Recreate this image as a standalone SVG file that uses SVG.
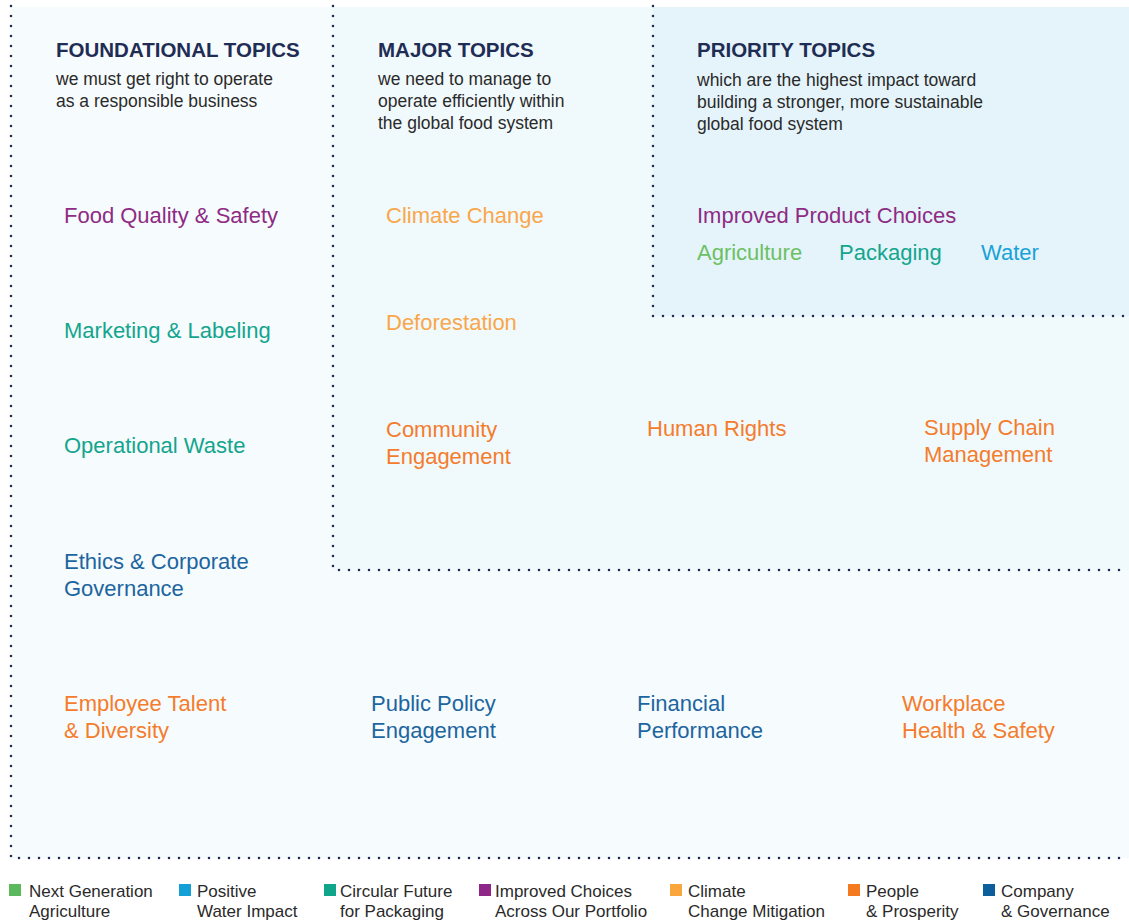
<svg xmlns="http://www.w3.org/2000/svg" width="1129" height="924" viewBox="0 0 1129 924">
<style>
.hd{font-family:"Liberation Sans",Arial,sans-serif;font-weight:bold;font-size:20.5px;fill:#1f2d55}
.sub{font-family:"Liberation Sans",Arial,sans-serif;font-size:17.5px;fill:#2a2a2a}
.t{font-family:"Liberation Sans",Arial,sans-serif;font-size:22px}
.lg{font-family:"Liberation Sans",Arial,sans-serif;font-size:17px;fill:#2a2a2a}
.dot{fill:none;stroke:#1f2d55;stroke-width:2.6;stroke-linecap:round;stroke-dasharray:0 10}
.pu{fill:#8e2b84}.te{fill:#13a58e}.gr{fill:#6cc063}.wa{fill:#19a2d8}.lo{fill:#f9a74a}.or{fill:#f47c2c}.nb{fill:#1c65a0}
</style>
<g id="backgrounds">
<rect x="11" y="7" width="1118" height="851" fill="#f6fbfd"/>
<rect x="333" y="7" width="796" height="563" fill="#f0f9fc"/>
<rect x="653" y="7" width="476" height="309" fill="#e5f4fa"/>
</g>
<g id="connectors">
<path class="dot" d="M11 6 V858 H1125"/>
<path class="dot" d="M333 6 V570 H1125"/>
<path class="dot" d="M653 6 V316 H1125"/>
</g>
<g id="header-foundational">
<text class="hd" x="56" y="57">FOUNDATIONAL TOPICS</text>
<text class="sub" x="56" y="85">we must get right to operate</text>
<text class="sub" x="56" y="107">as a responsible business</text>
</g>
<g id="header-major">
<text class="hd" x="378" y="57">MAJOR TOPICS</text>
<text class="sub" x="378" y="85">we need to manage to</text>
<text class="sub" x="378" y="107">operate efficiently within</text>
<text class="sub" x="378" y="129">the global food system</text>
</g>
<g id="header-priority">
<text class="hd" x="697" y="57">PRIORITY TOPICS</text>
<text class="sub" x="697" y="86">which are the highest impact toward</text>
<text class="sub" x="697" y="108">building a stronger, more sustainable</text>
<text class="sub" x="697" y="130">global food system</text>
</g>
<g id="food-quality"><text class="t pu" x="64" y="223">Food Quality &amp; Safety</text></g>
<g id="marketing"><text class="t te" x="64" y="338">Marketing &amp; Labeling</text></g>
<g id="operational-waste"><text class="t te" x="64" y="453">Operational Waste</text></g>
<g id="ethics"><text class="t nb" x="64" y="569">Ethics &amp; Corporate</text><text class="t nb" x="64" y="596">Governance</text></g>
<g id="employee"><text class="t or" x="64" y="711">Employee Talent</text><text class="t or" x="64" y="738">&amp; Diversity</text></g>
<g id="public-policy"><text class="t nb" x="371" y="711">Public Policy</text><text class="t nb" x="371" y="738">Engagement</text></g>
<g id="financial"><text class="t nb" x="637" y="711">Financial</text><text class="t nb" x="637" y="738">Performance</text></g>
<g id="workplace"><text class="t or" x="902" y="711">Workplace</text><text class="t or" x="902" y="738">Health &amp; Safety</text></g>
<g id="climate-change"><text class="t lo" x="386" y="223">Climate Change</text></g>
<g id="deforestation"><text class="t lo" x="386" y="330">Deforestation</text></g>
<g id="community"><text class="t or" x="386" y="437">Community</text><text class="t or" x="386" y="464">Engagement</text></g>
<g id="human-rights"><text class="t or" x="647" y="436">Human Rights</text></g>
<g id="supply-chain"><text class="t or" x="924" y="435">Supply Chain</text><text class="t or" x="924" y="462">Management</text></g>
<g id="improved-product"><text class="t pu" x="697" y="223">Improved Product Choices</text></g>
<g id="agriculture"><text class="t gr" x="697" y="260">Agriculture</text></g>
<g id="packaging"><text class="t te" x="839" y="260">Packaging</text></g>
<g id="water"><text class="t wa" x="981" y="260">Water</text></g>
<g id="legend">
<rect x="9" y="884" width="12" height="12" fill="#5cb85c"/>
<text class="lg" x="29" y="897">Next Generation</text><text class="lg" x="29" y="917">Agriculture</text>
<rect x="179" y="884" width="12" height="12" fill="#12a0d7"/>
<text class="lg" x="197" y="897">Positive</text><text class="lg" x="197" y="917">Water Impact</text>
<rect x="324" y="884" width="12" height="12" fill="#0ea58a"/>
<text class="lg" x="340" y="897">Circular Future</text><text class="lg" x="340" y="917">for Packaging</text>
<rect x="479" y="884" width="12" height="12" fill="#8e2787"/>
<text class="lg" x="495" y="897">Improved Choices</text><text class="lg" x="495" y="917">Across Our Portfolio</text>
<rect x="670" y="884" width="12" height="12" fill="#f9a63c"/>
<text class="lg" x="688" y="897">Climate</text><text class="lg" x="688" y="917">Change Mitigation</text>
<rect x="848" y="884" width="12" height="12" fill="#f47a20"/>
<text class="lg" x="866" y="897">People</text><text class="lg" x="866" y="917">&amp; Prosperity</text>
<rect x="983" y="884" width="12" height="12" fill="#0d5f9c"/>
<text class="lg" x="1001" y="897">Company</text><text class="lg" x="1001" y="917">&amp; Governance</text>
</g>
</svg>
